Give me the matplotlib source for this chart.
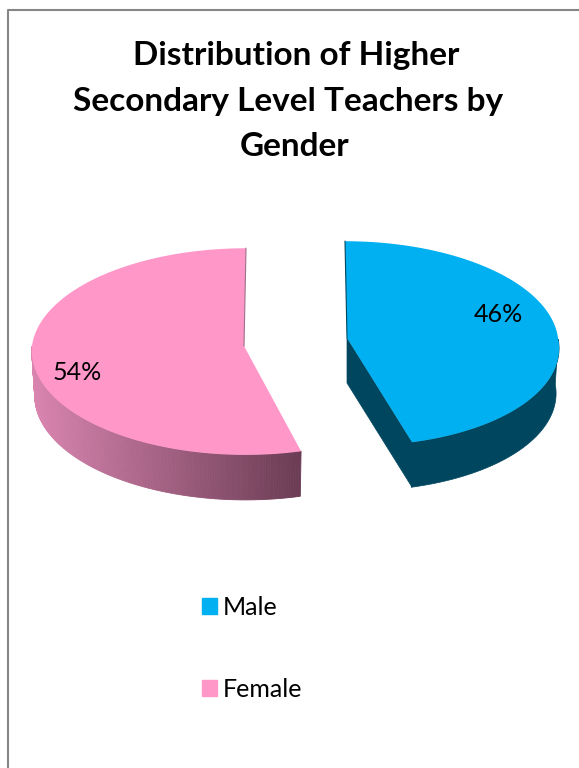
import numpy as np
import matplotlib
matplotlib.use('Agg')
import matplotlib.pyplot as plt
from matplotlib.colors import to_rgb
from matplotlib.lines import Line2D
from matplotlib.patches import Patch

labels = ['Male', 'Female']
shares = [46, 54]
title_lines = ['Distribution of Higher', 'Secondary Level Teachers by', 'Gender']

plt.rcParams['font.family'] = ['Lato', 'DejaVu Sans']

BLUE = '#00b0f0'
BLUE_DARK = '#00465f'
PINK = '#ff97c9'
DEPTH = 45
INSET = 3  # lower rim is a bit narrower than the top face


def rim(t, cx, cy, rx, ry, skew_up, skew_low):
    # t is clockwise from 12 o'clock, small perspective so the front looks bigger
    x = np.sin(t)
    y = np.cos(t)
    w = 1 + 0.054 * y
    px = rx * x / w + np.where(y > 0, skew_up * y, skew_low * -y)
    py = -ry * y / w
    return cx + px, cy + py


def lower(t, s):
    return rim(t, s[0], s[1] + DEPTH, s[2] - INSET, s[3], s[4], s[5])


fig = plt.figure(figsize=(5.79, 7.68), dpi=100)
ax = fig.add_axes([0, 0, 1, 1])
ax.set_xlim(0, 579)
ax.set_ylim(768, 0)
ax.axis('off')

# chart frame, only left and top show in the crop
ax.add_line(Line2D([8, 8, 579], [768, 9.5, 9.5], color='#868686', lw=1.5))

split = shares[0] / sum(shares) * 2 * np.pi

# male slice
m = (347, 338, 211, 102, -2, 10)
t = np.linspace(0, split, 200)
mx, my = rim(t, *m)
ax.fill([m[0], m[0], mx[-1], mx[-1]], [m[1], m[1] + DEPTH, my[-1] + DEPTH, my[-1]],
        color=BLUE_DARK, lw=0.5)
front = t[t > np.pi / 2]
fx, fy = rim(front, *m)
lx, ly = lower(front, m)
ax.fill(np.r_[fx, lx[::-1]], np.r_[fy, ly[::-1]], color=BLUE_DARK, lw=0.5)
ax.fill(np.r_[m[0], mx], np.r_[m[1], my], color=BLUE, lw=0)
ax.plot([mx[0], m[0]], [my[0], m[1]], color=BLUE_DARK, lw=0.8)

# female slice, side wall has a gradient so it's cut in strips
f = (244, 346, 212, 103, 2, 1.5)
t = np.linspace(split, 2 * np.pi, 300)
wx, wy = rim(t, *f)
light = np.array(to_rgb('#d985b0'))
dark = np.array(to_rgb('#6b3c54'))
edge = np.linspace(split, 1.5 * np.pi, 160)
ex, ey = rim(edge, *f)
bx, by = lower(edge, f)
for i in range(len(edge) - 1):
    frac = (ex[i] - ex.min()) / (ex.max() - ex.min())
    col = light + (dark - light) * frac
    ax.fill([ex[i], ex[i + 1], bx[i + 1], bx[i]],
            [ey[i], ey[i + 1], by[i + 1], by[i]],
            color=col, lw=0.6)
ax.fill(np.r_[f[0], wx], np.r_[f[1], wy], color=PINK, lw=0)
ax.plot([wx[-1], f[0]], [wy[-1], f[1]], color='#a06f8a', lw=0.8)

ax.text(498.5, 315, '%d%%' % shares[0], fontsize=18, ha='center', va='center', color='black')
ax.text(77, 373, '%d%%' % shares[1], fontsize=18, ha='center', va='center', color='black')

# second title line sits left of centre in the original
for line, xc, yc in zip(title_lines, [296, 288, 295], [56, 101, 147]):
    ax.text(xc, yc, line, fontsize=24, fontweight='bold', ha='center', va='center', color='black')

handles = [Patch(color=BLUE), Patch(color=PINK)]
leg = ax.legend(handles, labels, loc='upper left', bbox_to_anchor=(202, 596),
                bbox_transform=ax.transData, frameon=False, fontsize=18,
                handlelength=0.6, handleheight=0.6, handletextpad=0.24,
                labelspacing=2.35, borderpad=0, borderaxespad=0)

fig.savefig('out.png', dpi=100)
